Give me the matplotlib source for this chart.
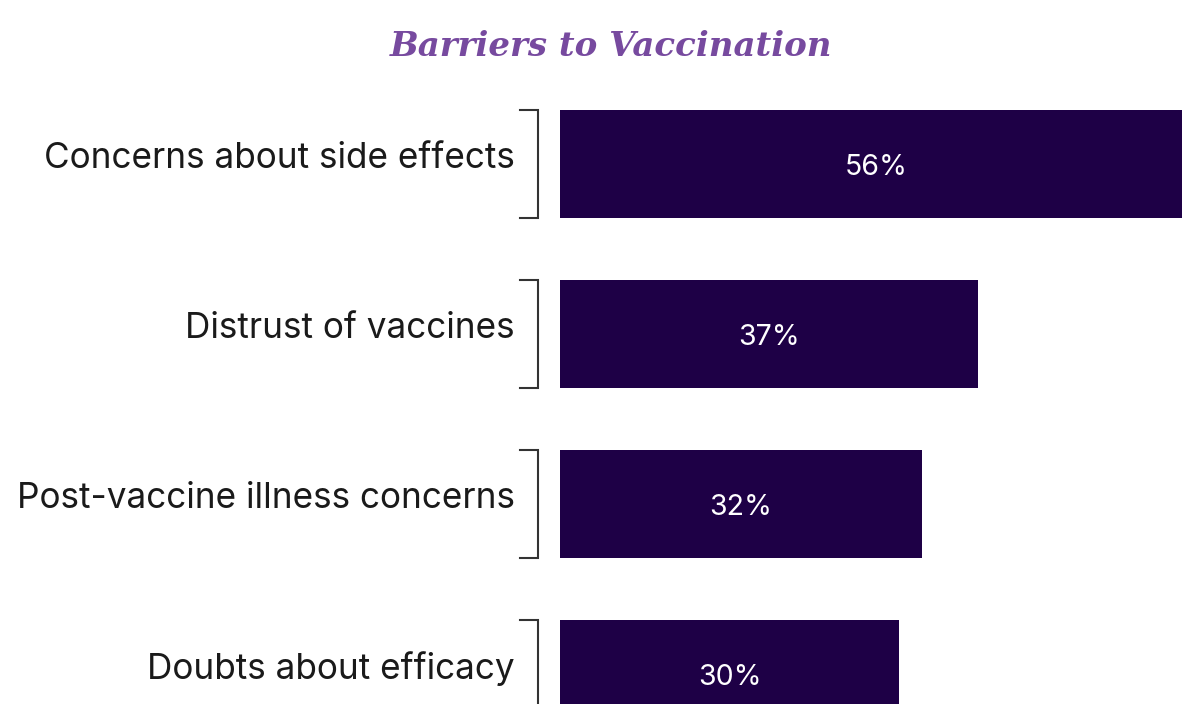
import matplotlib.pyplot as plt
import matplotlib.transforms as mtransforms

categories = [
    "Concerns about side effects",
    "Distrust of vaccines",
    "Post-vaccine illness concerns",
    "Doubts about efficacy",
]
values = [56, 37, 32, 30]
value_labels = ["56%", "37%", "32%", "30%"]

bar_color = "#1E0046"
title_color = "#774A9F"

fig = plt.figure(figsize=(11.82, 7.04), dpi=100)
ax = fig.add_axes([560 / 1182, 0, 1 - 560 / 1182, 1])

y = range(len(categories))
ax.barh(y, values, height=0.635, color=bar_color)

ax.set_xlim(0, 55)
ax.set_ylim(3.176, -0.965)
ax.axis("off")

for i, v in enumerate(values):
    ax.text(v / 2, i + 0.02, value_labels[i], color="white",
            ha="center", va="center", fontsize=20.5, family="Inter")

trans = mtransforms.blended_transform_factory(fig.transFigure, ax.transData)
for i, cat in enumerate(categories):
    ax.text(515 / 1182, i - 0.03, cat, transform=trans, ha="right",
            va="center", fontsize=25.3, family="Inter", color="#1a1a1a",
            clip_on=False)
    xl = 520 / 1182
    xr = 538 / 1182
    top = i - 0.3176
    bot = i + 0.3176
    ax.plot([xl, xr, xr, xl], [top, top, bot, bot], transform=trans,
            color="#333333", lw=1.5, clip_on=False, solid_joinstyle="miter")

fig.text(611 / 1182, 1 - 47 / 704, "Barriers to Vaccination",
         ha="center", va="center", fontsize=24.5, color=title_color,
         family="DejaVu Serif", fontweight="bold", fontstyle="italic")

fig.savefig("out.png", dpi=100)
